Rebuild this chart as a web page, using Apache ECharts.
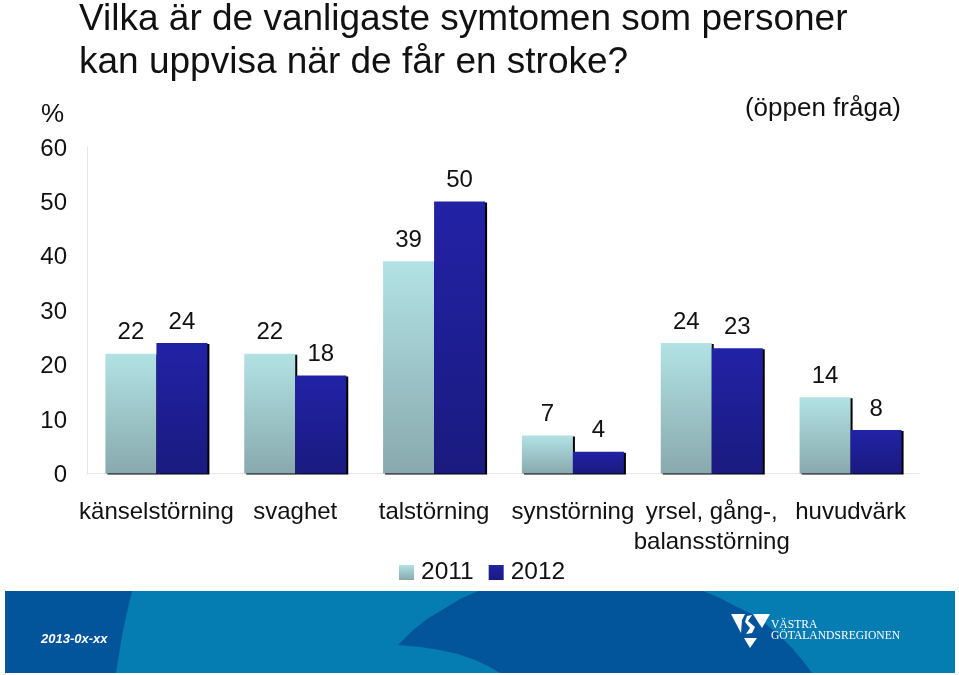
<!DOCTYPE html>
<html>
<head>
<meta charset="utf-8">
<style>
html, body { margin: 0; padding: 0; background: #fff; }
#chart { width: 959px; height: 675px; }
</style>
<script src="https://cdn.jsdelivr.net/npm/echarts@6/dist/echarts.min.js"></script>
</head>
<body>
<div id="chart"></div>
<script>
var categories = ['känselstörning', 'svaghet', 'talstörning', 'synstörning', 'yrsel, gång-,\nbalansstörning', 'huvudvärk'];
var values2011 = [22, 22, 39, 7, 24, 14];
var values2012 = [24, 18, 50, 4, 23, 8];
var fontName = '"Liberation Sans", Arial, sans-serif';

var chart = echarts.init(document.getElementById('chart'), null, { renderer: 'canvas' });

function vGradient(top, bottom) {
    return new echarts.graphic.LinearGradient(0, 0, 0, 1, [
        { offset: 0, color: top },
        { offset: 1, color: bottom }
    ]);
}

function barSeries(name, data, top, bottom) {
    return {
        name: name,
        type: 'bar',
        data: data,
        barWidth: 51,
        barGap: 0,
        itemStyle: {
            color: vGradient(top, bottom),
            shadowColor: '#000',
            shadowBlur: 0,
            shadowOffsetX: 2,
            shadowOffsetY: 1
        },
        label: {
            show: true,
            position: 'top',
            distance: 9,
            color: '#111',
            fontSize: 24,
            fontFamily: fontName
        }
    };
}

// footer banner, just decoration behind the logo
var banner = [
    { type: 'rect', shape: { x: 5, y: 591, width: 950, height: 82 }, style: { fill: '#067db2' } },
    { type: 'polygon', shape: { points: [[5, 591], [132, 591], [127, 612], [122, 636], [116, 673], [5, 673]] }, style: { fill: '#02559b' } },
    { type: 'polygon', shape: { points: [[478, 591], [703, 591], [720, 598], [735, 606], [752, 614], [766, 624], [780, 636], [792, 648], [803, 661], [812, 673], [500, 673], [488, 666], [475, 660], [458, 654], [440, 650], [420, 647], [398, 645], [412, 631], [427, 619], [442, 610], [460, 599]] }, style: { fill: '#02559b' } },
    { type: 'text', x: 41, y: 633, style: { text: '2013-0x-xx', fill: '#fff', font: 'italic bold 13px ' + fontName } },
    { type: 'text', x: 771, y: 619, style: { text: 'VÄSTRA', fill: '#fff', font: '11.6px "Liberation Serif", serif' } },
    { type: 'text', x: 771, y: 630, style: { text: 'GÖTALANDSREGIONEN', fill: '#fff', font: '11.6px "Liberation Serif", serif' } },
    { type: 'polygon', shape: { points: [[731, 614], [745, 614], [742, 620], [741, 633]] }, style: { fill: '#fff' } },
    { type: 'polygon', shape: { points: [[753, 614], [770, 614], [762, 628], [758, 622]] }, style: { fill: '#fff' } },
    { type: 'polygon', shape: { points: [[747, 616], [752, 615], [748, 621], [755, 627], [752, 633], [746, 634], [750, 628], [745, 622]] }, style: { fill: '#fff' } },
    { type: 'polygon', shape: { points: [[744, 638], [757, 638], [750, 648]] }, style: { fill: '#fff' } }
];

var option = {
    animation: false,
    backgroundColor: '#fff',
    title: [
        {
            text: 'Vilka är de vanligaste symtomen som personer\nkan uppvisa när de får en stroke?',
            left: 79,
            top: -2,
            padding: 0,
            textStyle: { color: '#111', fontSize: 37, fontWeight: 'normal', fontFamily: fontName, lineHeight: 43 }
        },
        {
            text: '(öppen fråga)',
            right: 58,
            top: 96,
            padding: 0,
            textStyle: { color: '#111', fontSize: 26, fontWeight: 'normal', fontFamily: fontName }
        }
    ],
    legend: {
        left: 399,
        top: 560,
        icon: 'rect',
        itemWidth: 15,
        itemHeight: 15,
        itemGap: 15,
        padding: 0,
        itemStyle: { shadowColor: 'transparent', shadowOffsetX: 0, shadowOffsetY: 0 },
        textStyle: { color: '#111', fontSize: 24.5, fontFamily: fontName, padding: [0, 0, 0, 2] }
    },
    grid: { left: 87, right: 39, top: 147, bottom: 201.5, containLabel: false },
    xAxis: {
        type: 'category',
        data: categories,
        axisLine: { lineStyle: { color: '#e6e6e6' } },
        axisTick: { show: false },
        axisLabel: {
            color: '#111',
            fontSize: 24,
            fontFamily: fontName,
            lineHeight: 30,
            margin: 24,
            interval: 0
        }
    },
    yAxis: {
        type: 'value',
        min: 0,
        max: 60,
        interval: 10,
        name: '%',
        nameLocation: 'end',
        nameGap: 19,
        nameTextStyle: { color: '#111', fontSize: 26, fontFamily: fontName, align: 'right', padding: [0, 23, 0, 0] },
        axisLine: { show: true, lineStyle: { color: '#e6e6e6' } },
        axisTick: { show: false },
        splitLine: { show: false },
        axisLabel: {
            margin: 20,
            formatter: '{t|{value}}',
            rich: { t: { color: '#111', fontSize: 24, fontFamily: fontName, padding: [4, 0, 0, 0] } }
        }
    },
    series: [
        barSeries('2011', values2011, '#b2e2e5', '#88a9ad'),
        barSeries('2012', values2012, '#2222a6', '#1a1a80')
    ],
    graphic: { elements: banner }
};

chart.setOption(option);
</script>
</body>
</html>
